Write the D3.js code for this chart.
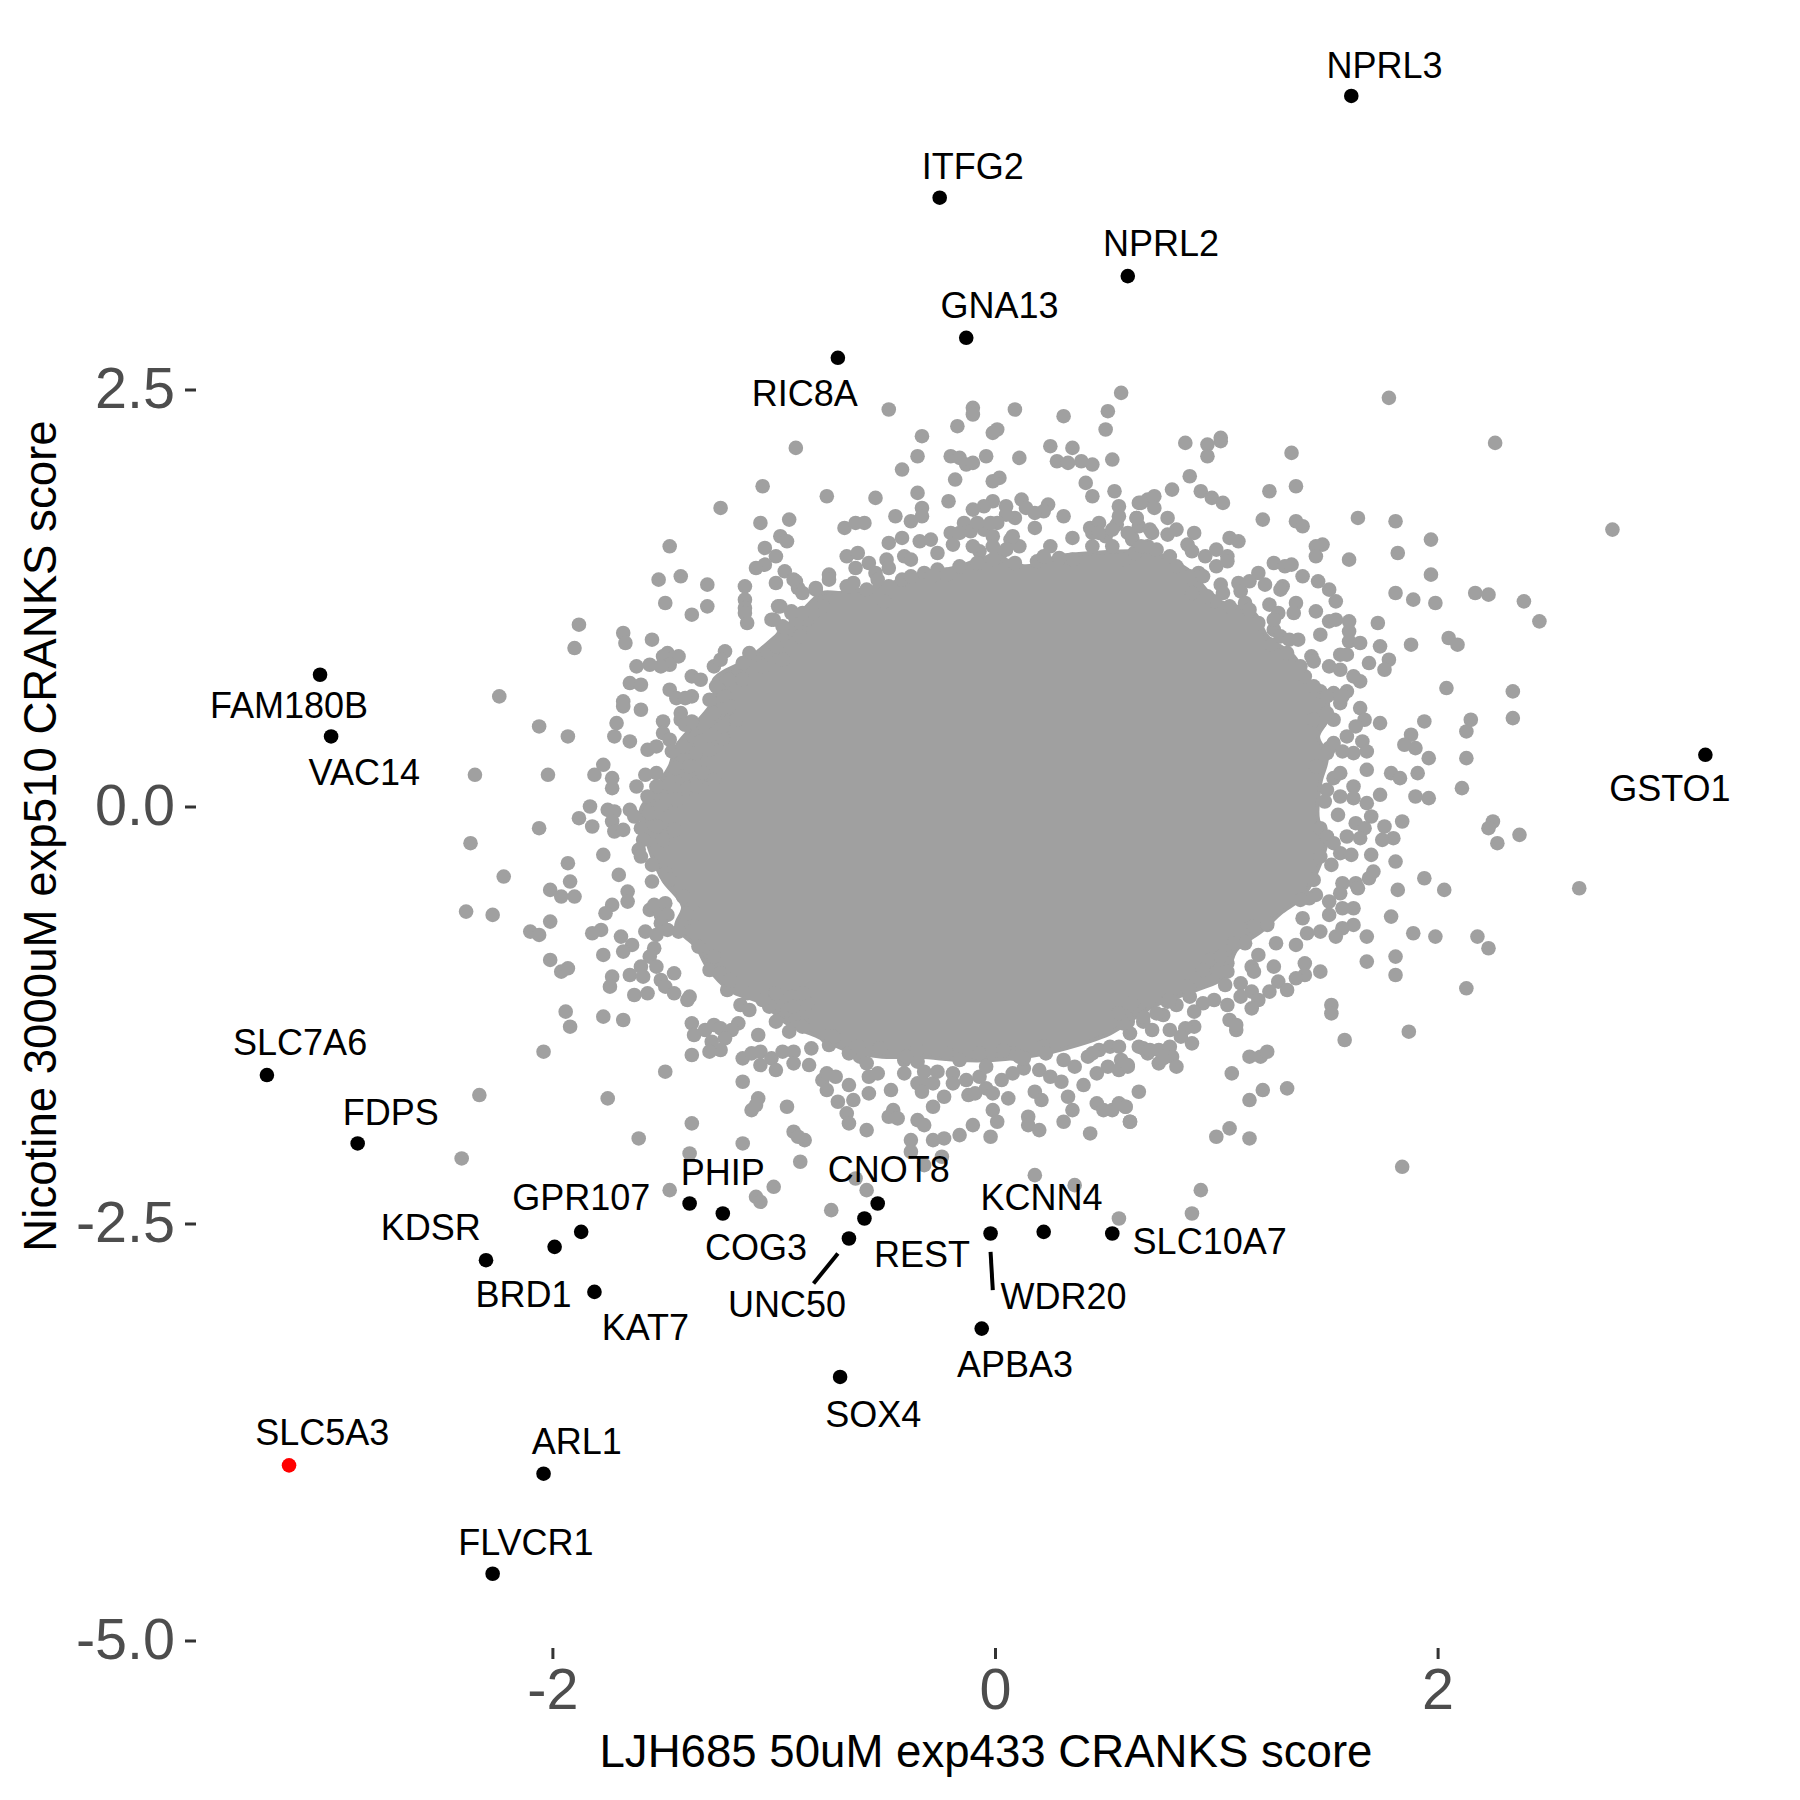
<!DOCTYPE html>
<html><head><meta charset="utf-8">
<script src="https://d3js.org/d3.v7.min.js"></script>
<style>html,body{margin:0;padding:0;background:#fff}svg{display:block}</style>
</head><body><svg id="chart" width="1800" height="1800"></svg>
<script>
// Values, in score units [x, y].
const fringeUpperLeft = [[-1.05,1.92],[-1.24,1.79],[-1.06,1.70],[-0.93,1.72],[-0.97,1.62],[-0.94,1.59],[-1.04,1.55],[-0.99,1.50],[-1.04,1.45],[-1.08,1.43],[-0.95,1.41],[-0.99,1.34],[-0.90,1.35],[-0.89,1.31],[-1.47,1.56],[-1.52,1.36],[-1.42,1.38],[-1.30,1.33],[-1.49,1.22],[-1.30,1.20],[-1.37,1.15],[-1.13,1.32],[-1.13,1.24],[-1.13,1.19],[-1.13,1.16],[-1.12,1.10],[-0.98,1.20],[-1.01,1.12],[-0.92,1.16],[-1.88,1.09],[-1.90,0.95],[-1.68,1.04],[-1.67,0.98],[-1.55,1.00],[-1.48,0.92],[-1.43,0.90],[-1.50,0.90],[-1.47,0.85],[-1.51,0.84],[-1.56,0.85],[-1.62,0.84],[-1.22,0.93],[-1.27,0.84],[-1.24,0.88],[-1.11,0.92],[-1.14,0.86],[-1.03,0.93],[-1.37,0.78],[-1.33,0.76],[-1.65,0.74],[-1.60,0.73],[-1.47,0.70],[-1.37,0.66],[-1.44,0.65],[-1.40,0.65],[-1.68,0.63],[-1.68,0.60],[-1.60,0.58],[-1.29,0.64],[-1.22,0.66],[-1.42,0.56],[-1.42,0.52],[-1.40,0.49],[-1.37,0.51],[-1.30,0.51],[-1.50,0.51],[-1.71,0.50],[-1.72,0.42],[-1.65,0.39],[-1.50,0.44],[-1.47,0.40],[-1.57,0.34],[-1.53,0.36],[-1.46,0.33],[-1.41,0.36],[-1.35,0.42],[-1.33,0.39],[-1.23,0.41],[-2.24,0.66],[-2.06,0.48],[-1.93,0.42],[-2.35,0.19],[-2.02,0.19],[-1.77,0.25],[-1.81,0.19],[-1.73,0.17],[-1.73,0.11],[-1.58,0.19],[-1.53,0.20],[-1.62,0.12],[-1.53,0.12],[-1.45,0.10],[-1.44,0.23],[-1.39,0.20],[-1.39,0.11],[-1.83,0.00],[-1.88,-0.07],[-1.75,-0.02],[-1.72,-0.03],[-1.73,-0.09],[-1.82,-0.12],[-2.06,-0.13],[-1.72,-0.15],[-1.68,-0.14],[-1.65,-0.02],[-1.63,-0.06],[-1.57,0.06],[-1.56,-0.04],[-1.60,-0.13],[-2.37,-0.22],[-1.77,-0.29],[-1.93,-0.34],[-1.59,-0.20],[-1.61,-0.26],[-1.60,-0.30],[-1.55,-0.35],[-2.22,-0.42],[-1.70,-0.41],[-1.50,-0.20],[-1.45,-0.14],[-1.49,-0.40],[-0.96,1.02],[-0.99,0.96],[-0.91,1.06],[-0.85,1.12],[-0.96,0.88],[-1.05,0.84],[-1.20,0.76],[-1.14,0.76],[-1.26,0.72],[-1.24,0.58],[-1.20,0.60],[-1.17,0.52],[-1.27,0.56],[-1.23,0.48],[-1.35,0.32],[-1.29,0.34],[-1.38,0.24],[-1.32,0.20],[-1.27,0.16],[-1.35,0.12],[-1.51,0.00],[-1.47,-0.06],[-1.53,-0.12],[-1.44,0.04],[-0.87,1.28],[-0.81,1.30],[-0.78,1.20],[-0.82,1.16],[-0.90,1.12],[-0.96,1.08],[-0.88,1.02]];
const fringeLowerLeft = [[-2.39,-0.63],[-2.27,-0.65],[-2.01,-0.50],[-1.96,-0.54],[-1.92,-0.45],[-1.90,-0.54],[-2.01,-0.69],[-2.10,-0.75],[-2.06,-0.77],[-2.01,-0.92],[-1.96,-0.99],[-1.93,-0.97],[-1.94,-1.23],[-1.92,-1.32],[-1.77,-1.26],[-1.68,-1.28],[-2.04,-1.47],[-2.33,-1.73],[-2.41,-2.11],[-1.75,-1.75],[-1.61,-1.99],[-1.47,-2.30],[-1.38,-2.08],[-1.37,-1.90],[-1.49,-1.59],[-1.66,-0.51],[-1.66,-0.57],[-1.73,-0.59],[-1.76,-0.64],[-1.78,-0.74],[-1.82,-0.76],[-1.69,-0.78],[-1.64,-0.83],[-1.68,-0.87],[-1.77,-0.89],[-1.55,-0.45],[-1.56,-0.62],[-1.54,-0.59],[-1.49,-0.58],[-1.51,-0.65],[-1.48,-0.65],[-1.51,-0.70],[-1.48,-0.74],[-1.58,-0.75],[-1.53,-0.77],[-1.43,-0.75],[-1.37,-0.75],[-1.54,-0.85],[-1.56,-0.90],[-1.53,-0.96],[-1.60,-0.96],[-1.65,-1.01],[-1.59,-1.02],[-1.73,-1.02],[-1.74,-1.08],[-1.51,-1.04],[-1.49,-1.08],[-1.45,-1.00],[-1.45,-1.12],[-1.63,-1.13],[-1.57,-1.12],[-1.38,-1.14],[-1.39,-1.16],[-1.34,-0.84],[-1.29,-0.98],[-1.21,-1.10],[-1.15,-1.19],[-1.11,-1.22],[-1.02,-1.20],[-0.99,-1.29],[-0.93,-1.35],[-1.07,-1.37],[-1.16,-1.30],[-1.19,-1.34],[-1.37,-1.30],[-1.36,-1.37],[-1.31,-1.34],[-1.27,-1.31],[-1.24,-1.33],[-1.22,-1.39],[-1.28,-1.41],[-1.24,-1.46],[-1.29,-1.47],[-1.37,-1.49],[-1.14,-1.51],[-1.10,-1.48],[-1.06,-1.47],[-1.06,-1.55],[-1.01,-1.51],[-0.99,-1.58],[-0.96,-1.47],[-0.91,-1.47],[-0.91,-1.54],[-0.83,-1.45],[-0.84,-1.55],[-1.14,-1.65],[-1.07,-1.75],[-1.08,-1.79],[-1.10,-1.82],[-0.94,-1.80],[-0.91,-1.95],[-0.86,-2.00],[-0.89,-1.98],[-0.88,-2.13],[-1.14,-2.02],[-1.00,-2.28],[-1.08,-2.34],[-1.06,-2.37],[-0.78,-1.64],[-0.94,-1.22],[-0.85,-1.18],[-0.87,-1.30],[-0.92,-1.14],[-1.27,-0.90],[-1.24,-1.00],[-1.20,-1.04],[-1.12,-1.12],[-1.05,-1.16],[-0.99,-1.12],[-0.91,-1.20],[-0.87,-1.12],[-1.35,-0.64],[-1.41,-0.54],[-1.47,-0.44],[-1.39,-0.64]];
const fringeTop = [[-0.48,2.38],[-0.90,2.15],[-0.10,2.39],[-0.10,2.35],[-0.17,2.28],[-0.33,2.22],[0.09,2.38],[0.31,2.34],[0.57,2.48],[0.51,2.37],[0.50,2.26],[0.01,2.26],[-0.01,2.24],[-0.35,2.10],[-0.42,2.02],[-0.20,2.10],[-0.16,2.09],[-0.13,2.05],[-0.10,2.06],[-0.04,2.10],[0.11,2.09],[0.25,2.16],[0.35,2.15],[0.28,2.07],[0.33,2.06],[0.39,2.07],[0.44,2.05],[0.53,2.08],[-0.18,1.96],[0.02,1.97],[-0.01,1.95],[0.41,1.94],[0.44,1.86],[0.54,1.89],[-0.76,1.86],[-0.54,1.85],[-0.35,1.88],[-0.21,1.83],[0.12,1.84],[0.31,1.74],[0.18,1.67],[0.35,1.61],[0.24,1.81],[0.22,1.77],[0.18,1.76],[0.14,1.79],[-0.01,1.83],[-0.05,1.80],[0.05,1.80],[-0.10,1.78],[0.09,1.73],[0.05,1.75],[-0.33,1.79],[-0.33,1.74],[-0.45,1.74],[-0.38,1.71],[-0.68,1.67],[-0.63,1.70],[-0.59,1.70],[-0.42,1.61],[-0.48,1.58],[-0.14,1.70],[-0.20,1.64],[-0.19,1.57],[-0.11,1.65],[-0.05,1.66],[0.01,1.70],[-0.34,1.59],[-0.29,1.60],[-0.67,1.50],[-0.62,1.52],[-0.41,1.50],[-0.38,1.48],[-0.26,1.52],[-0.49,1.48],[-0.48,1.43],[-0.57,1.46],[-0.63,1.43],[-0.54,1.40],[-0.75,1.39],[-0.91,1.36],[-0.48,1.32],[-0.07,1.53],[-0.01,1.62],[0.07,1.60],[0.11,1.56],[0.02,1.50],[0.09,1.46],[0.19,1.47],[0.25,1.56],[0.35,1.48],[0.29,1.49],[0.43,1.67],[0.47,1.70],[0.55,1.69],[0.56,1.80],[0.56,1.74],[0.44,1.56],[0.53,1.56],[0.50,1.62],[0.62,1.60],[0.65,1.82],[0.64,1.73],[0.69,1.84],[0.63,1.52],[-0.32,1.40],[-0.26,1.42],[-0.97,1.20],[-0.92,1.17],[-0.87,1.16],[-1.00,1.12],[-0.50,1.23],[-0.81,1.31],[-0.75,1.36],[-0.67,1.32],[-0.64,1.34],[-0.58,1.30],[-0.53,1.36],[-0.42,1.36],[-0.38,1.38],[-0.29,1.38],[-0.22,1.39],[-0.16,1.44],[-0.08,1.46],[-0.01,1.48],[-0.10,1.56],[-0.01,1.56],[0.05,1.54],[0.08,1.62],[-0.02,1.70],[-0.08,1.70],[-0.16,1.64],[0.22,1.50],[0.44,1.64],[0.47,1.64],[0.53,1.66],[0.65,1.68],[0.70,1.66],[0.58,1.48],[0.69,1.56]];
const fringeUpperRight = [[0.86,2.18],[0.96,2.17],[0.96,2.10],[1.02,2.21],[1.02,2.19],[1.34,2.12],[2.26,2.18],[0.88,1.98],[0.80,1.90],[0.93,1.89],[0.98,1.85],[1.03,1.82],[1.24,1.89],[1.36,1.92],[1.21,1.72],[1.36,1.71],[1.39,1.68],[1.64,1.73],[1.81,1.71],[1.97,1.60],[1.82,1.52],[1.97,1.39],[1.81,1.28],[1.89,1.24],[1.99,1.22],[2.17,1.28],[2.23,1.27],[1.60,1.48],[1.48,1.57],[1.45,1.56],[1.45,1.50],[0.72,1.86],[0.66,1.82],[0.72,1.79],[0.64,1.73],[0.78,1.73],[0.82,1.66],[0.78,1.63],[0.90,1.64],[0.71,1.64],[0.62,1.61],[1.06,1.61],[1.10,1.59],[0.87,1.57],[0.89,1.53],[0.95,1.50],[1.00,1.54],[1.05,1.50],[1.00,1.44],[1.05,1.47],[1.26,1.46],[1.31,1.44],[1.34,1.45],[1.39,1.38],[1.46,1.35],[1.51,1.30],[1.54,1.23],[1.19,1.40],[1.22,1.33],[1.15,1.35],[1.10,1.34],[1.11,1.29],[1.30,1.32],[1.29,1.30],[1.02,1.33],[1.03,1.28],[0.99,1.23],[0.92,1.40],[0.89,1.28],[1.36,1.22],[1.35,1.16],[1.45,1.17],[1.24,1.21],[1.28,1.16],[1.13,1.22],[1.19,1.10],[1.51,1.11],[1.54,1.12],[1.60,1.11],[1.73,1.10],[1.47,1.03],[1.60,1.05],[1.60,0.99],[1.65,0.98],[1.74,0.96],[1.88,0.97],[2.05,1.01],[2.09,0.97],[1.37,1.00],[1.26,1.06],[1.25,0.97],[1.56,0.91],[1.59,0.91],[1.43,0.90],[1.44,0.87],[1.69,0.86],[1.78,0.88],[1.76,0.82],[1.51,0.84],[1.56,0.82],[1.62,0.78],[1.65,0.75],[2.04,0.71],[2.34,0.69],[2.34,0.53],[1.40,0.78],[1.47,0.69],[1.53,0.68],[1.59,0.69],[1.65,0.59],[1.56,0.62],[1.67,0.52],[1.74,0.50],[1.94,0.51],[2.15,0.52],[2.13,0.45],[1.53,0.52],[1.47,0.51],[1.63,0.48],[1.59,0.42],[1.66,0.39],[1.68,0.33],[1.62,0.32],[1.57,0.33],[1.88,0.43],[1.85,0.37],[1.90,0.35],[1.96,0.29],[2.13,0.29],[1.51,0.35],[1.68,0.22],[1.53,0.17],[1.79,0.20],[1.83,0.17],[1.91,0.20],[2.11,0.11],[1.62,0.12],[1.74,0.07],[1.90,0.06],[1.96,0.05],[1.62,0.05],[1.68,0.02],[1.56,0.06],[1.49,0.03],[1.45,0.24],[2.79,1.66],[1.78,2.45],[2.46,1.11],[2.39,1.23],[0.60,1.64],[0.66,1.56],[0.73,1.54],[0.79,1.50],[0.82,1.44],[0.88,1.38],[0.94,1.38],[0.96,1.26],[1.06,1.20],[1.15,1.18],[1.26,1.12],[1.29,1.02],[1.33,1.00],[1.32,0.92],[1.38,0.84],[1.44,0.72],[1.50,0.66],[1.57,0.66],[1.50,0.56],[1.44,0.52],[1.53,0.38],[1.50,0.32],[1.56,0.20],[1.50,0.10]];
const fringeLowerRight = [[1.84,-0.09],[2.25,-0.09],[2.23,-0.13],[2.27,-0.22],[1.70,-0.06],[1.63,-0.10],[1.67,-0.13],[1.59,-0.18],[1.65,-0.19],[1.76,-0.12],[1.80,-0.19],[1.75,-0.20],[1.55,-0.05],[1.47,-0.13],[1.50,-0.18],[1.56,-0.28],[1.61,-0.29],[1.70,-0.29],[1.81,-0.33],[1.52,-0.35],[1.71,-0.39],[1.69,-0.43],[1.94,-0.43],[2.03,-0.50],[1.82,-0.50],[1.57,-0.46],[1.63,-0.46],[1.64,-0.49],[1.44,-0.44],[1.79,-0.66],[1.56,-0.52],[1.45,-0.53],[1.42,-0.55],[1.51,-0.57],[1.51,-0.65],[1.62,-0.61],[1.57,-0.61],[1.39,-0.67],[1.62,-0.71],[1.57,-0.73],[1.89,-0.76],[1.99,-0.78],[2.18,-0.78],[2.23,-0.85],[1.68,-0.78],[1.54,-0.78],[1.47,-0.75],[1.41,-0.76],[1.36,-0.83],[1.27,-0.82],[1.23,-0.71],[1.15,-0.73],[1.13,-0.82],[1.81,-0.90],[1.68,-0.93],[1.81,-1.01],[1.40,-0.94],[1.47,-0.99],[1.19,-0.89],[1.16,-0.96],[1.17,-0.99],[1.26,-0.96],[1.40,-1.01],[1.36,-1.03],[1.28,-1.05],[1.32,-1.10],[1.24,-1.11],[2.13,-1.09],[1.52,-1.19],[1.52,-1.24],[1.58,-1.40],[1.87,-1.35],[1.84,-2.16],[1.11,-1.06],[1.16,-1.11],[1.11,-1.14],[1.19,-1.16],[1.16,-1.21],[1.05,-1.19],[0.95,-1.03],[0.97,-0.92],[1.05,-0.94],[1.05,-0.99],[1.04,-1.07],[0.99,-1.16],[0.94,-1.18],[0.90,-1.23],[0.88,-1.14],[0.78,-1.17],[0.82,-1.19],[0.76,-1.25],[1.06,-1.28],[1.09,-1.34],[1.09,-1.31],[0.90,-1.32],[0.86,-1.33],[0.79,-1.34],[0.89,-1.42],[0.84,-1.38],[0.71,-1.34],[0.67,-1.29],[0.60,-1.29],[0.61,-1.36],[0.65,-1.44],[0.69,-1.48],[0.74,-1.46],[0.79,-1.44],[0.80,-1.50],[0.74,-1.54],[0.82,-1.56],[0.76,-1.51],[0.60,-1.56],[0.57,-1.52],[1.15,-1.50],[1.20,-1.50],[1.23,-1.47],[1.07,-1.60],[1.21,-1.70],[1.32,-1.69],[1.15,-1.76],[0.65,-1.71],[0.59,-1.80],[0.61,-1.89],[1.06,-1.93],[1.00,-1.98],[1.15,-1.99],[0.93,-2.30],[0.89,-2.44],[2.64,-0.49],[2.37,-0.17],[1.23,-0.70],[1.17,-0.72],[1.08,-0.82],[1.02,-0.90],[0.94,-0.98],[0.87,-1.08],[0.79,-1.16],[0.73,-1.24],[0.67,-1.26],[0.63,-1.20],[1.38,-0.56],[1.47,-0.30],[1.53,-0.22]];
const fringeBottom = [[-0.87,-1.32],[-0.76,-1.38],[-0.75,-1.43],[-0.76,-1.60],[-0.72,-1.62],[-0.76,-1.70],[-0.66,-1.67],[-0.64,-1.76],[-0.71,-1.77],[-0.67,-1.84],[-0.66,-1.90],[-0.58,-1.94],[-0.74,-2.42],[-0.63,-2.23],[-0.58,-2.30],[-0.61,-1.50],[-0.66,-1.48],[-0.57,-1.62],[-0.57,-1.72],[-0.53,-1.60],[-0.47,-1.70],[-0.52,-1.45],[-0.41,-1.52],[-0.41,-1.60],[-0.35,-1.53],[-0.35,-1.66],[-0.32,-1.59],[-0.32,-1.66],[-0.33,-1.71],[-0.28,-1.66],[-0.26,-1.59],[-0.23,-1.74],[-0.28,-1.80],[-0.46,-1.82],[-0.48,-1.86],[-0.44,-1.87],[-0.35,-1.88],[-0.32,-1.91],[-0.38,-2.00],[-0.38,-2.07],[-0.32,-2.15],[-0.24,-2.10],[-0.28,-2.00],[-0.23,-1.99],[-0.16,-1.97],[-0.10,-1.91],[-0.12,-1.73],[-0.09,-1.72],[-0.04,-1.69],[-0.01,-1.72],[0.06,-1.75],[-0.01,-1.82],[0.01,-1.89],[-0.02,-1.98],[-0.19,-1.60],[-0.19,-1.66],[-0.13,-1.64],[-0.07,-1.62],[-0.04,-1.56],[0.03,-1.64],[0.08,-1.60],[0.13,-1.57],[0.13,-1.51],[0.08,-1.48],[0.20,-1.58],[0.25,-1.62],[0.30,-1.65],[0.18,-1.71],[0.21,-1.76],[0.15,-1.86],[0.15,-1.91],[0.20,-1.94],[0.33,-1.74],[0.35,-1.82],[0.31,-1.89],[0.43,-1.96],[0.40,-1.67],[0.46,-1.60],[0.36,-1.56],[0.31,-1.52],[0.42,-1.50],[0.47,-1.46],[0.52,-1.44],[0.56,-1.44],[0.51,-1.56],[0.56,-1.58],[0.60,-1.55],[0.46,-1.78],[0.49,-1.82],[0.53,-1.82],[0.56,-1.78],[0.59,-1.80],[0.61,-1.89],[0.18,-2.21],[0.36,-2.27],[0.56,-2.47],[0.22,-1.44],[0.62,-1.18],[0.58,-1.30],[0.67,-1.45],[-0.73,-1.38],[-0.62,-1.44],[-0.58,-1.54],[-0.40,-1.50],[-0.35,-1.46],[-0.22,-1.48],[-0.16,-1.52],[-0.07,-1.48],[0.04,-1.46],[0.11,-1.50],[0.23,-1.48],[0.44,-1.48],[0.56,-1.24],[0.70,-1.46]];
// Outline of the fully overplotted centre, where single points can no longer be told apart.
const coreOutline = [[-1.56,-0.26],[-1.60,-0.02],[-1.56,0.06],[-1.47,0.24],[-1.44,0.36],[-1.27,0.64],[-1.27,0.76],[-1.12,0.88],[-0.99,1.02],[-0.88,1.16],[-0.78,1.28],[-0.70,1.28],[-0.53,1.32],[-0.35,1.38],[-0.16,1.44],[-0.01,1.50],[0.14,1.44],[0.29,1.50],[0.44,1.52],[0.71,1.52],[0.87,1.42],[1.00,1.24],[1.17,1.16],[1.23,1.02],[1.35,0.90],[1.42,0.74],[1.50,0.64],[1.50,0.52],[1.46,0.42],[1.50,0.30],[1.47,0.14],[1.46,-0.08],[1.50,-0.18],[1.47,-0.34],[1.39,-0.54],[1.29,-0.64],[1.21,-0.74],[1.09,-0.86],[1.04,-1.02],[0.91,-1.10],[0.71,-1.20],[0.52,-1.36],[0.29,-1.46],[0.14,-1.50],[-0.01,-1.52],[-0.16,-1.52],[-0.34,-1.50],[-0.51,-1.50],[-0.67,-1.46],[-0.80,-1.38],[-0.94,-1.30],[-1.05,-1.18],[-1.20,-1.10],[-1.30,-0.96],[-1.35,-0.84],[-1.44,-0.72],[-1.41,-0.60],[-1.50,-0.44]];

const geneNames  = ["NPRL3","ITFG2","NPRL2","GNA13","RIC8A","FAM180B","VAC14","GSTO1","SLC7A6","FDPS","PHIP","COG3","GPR107","BRD1","KDSR","KAT7","CNOT8","REST","UNC50","WDR20","KCNN4","SLC10A7","APBA3","SOX4","SLC5A3","ARL1","FLVCR1"];
const geneX      = [1.61,-0.25,0.60,-0.13,-0.71,-3.05,-3.00,3.21,-3.29,-2.88,-1.38,-1.23,-1.87,-1.99,-2.30,-1.81,-0.53,-0.59,-0.66,-0.02,0.22,0.53,-0.06,-0.70,-3.19,-2.04,-2.27];
const geneY      = [4.26,3.65,3.18,2.81,2.69,0.79,0.42,0.31,-1.61,-2.02,-2.38,-2.44,-2.55,-2.64,-2.72,-2.91,-2.38,-2.47,-2.59,-2.56,-2.55,-2.56,-3.13,-3.42,-3.95,-4.00,-4.60];
const labelX     = [1.76,-0.10,0.75,0.02,-0.86,-3.19,-2.85,3.05,-3.14,-2.73,-1.23,-1.08,-1.87,-2.13,-2.55,-1.58,-0.48,-0.33,-0.94,0.31,0.21,0.97,0.09,-0.55,-3.04,-1.89,-2.12];
const labelY     = [4.45,3.84,3.38,3.01,2.48,0.61,0.21,0.11,-1.41,-1.83,-2.19,-2.64,-2.34,-2.92,-2.52,-3.12,-2.17,-2.68,-2.98,-2.93,-2.34,-2.60,-3.34,-3.64,-3.75,-3.80,-4.41];
const highlightGene = "SLC5A3";
const leaderLines = [[[-0.71,-2.68],[-0.82,-2.86]],[[-0.02,-2.67],[-0.01,-2.90]]];

const xTicks = [-2,0,2];
const yTicks = [2.5,0,-2.5,-5];
const xTitle = "LJH685 50uM exp433 CRANKS score";
const yTitle = "Nicotine 3000uM exp510 CRANKS score";

const svg = d3.select("#chart");
const FONT = "'Liberation Sans', Arial, sans-serif";
// score -> pixel: 0 at 995 / 806.5, one score unit = 221.3 px across and 166.8 px down
const x = d3.scaleLinear().domain([-2,2]).range([552.4,1437.6]);
const y = d3.scaleLinear().domain([-5,2.5]).range([1640.5,389.5]);

const GREY = "#a0a0a0", R = 7.3;
const corePath = d3.line().x(d=>x(d[0])).y(d=>y(d[1])).curve(d3.curveCatmullRomClosed.alpha(0.5));
svg.append("path").attr("d",corePath(coreOutline)).attr("fill",GREY).attr("stroke",GREY).attr("stroke-width",4).attr("stroke-linejoin","round");

const fringe = [].concat(fringeUpperLeft,fringeLowerLeft,fringeTop,fringeUpperRight,fringeLowerRight,fringeBottom);
svg.append("g").selectAll("circle").data(fringe).join("circle")
  .attr("cx",d=>x(d[0])).attr("cy",d=>y(d[1])).attr("r",R).attr("fill",GREY);

const genes = geneNames.map((n,i)=>({n,x:geneX[i],y:geneY[i],lx:labelX[i],ly:labelY[i]}));
svg.append("g").selectAll("circle").data(genes).join("circle")
  .attr("cx",d=>x(d.x)).attr("cy",d=>y(d.y)).attr("r",R)
  .attr("fill",d=>d.n===highlightGene?"#ff0000":"#000");

svg.append("g").selectAll("line").data(leaderLines).join("line")
  .attr("x1",d=>x(d[0][0])).attr("y1",d=>y(d[0][1])).attr("x2",d=>x(d[1][0])).attr("y2",d=>y(d[1][1]))
  .attr("stroke","#000").attr("stroke-width",4);

svg.append("g").selectAll("text").data(genes).join("text")
  .attr("x",d=>x(d.lx)).attr("y",d=>y(d.ly)).attr("dy","0.37em").attr("text-anchor","middle")
  .attr("font-family",FONT).attr("font-size",36).attr("fill","#000").text(d=>d.n);

// Axes: ticks only, no domain line
const xAxis = d3.axisBottom(x).tickValues(xTicks).tickSize(11).tickPadding(9).tickFormat(d3.format("d"));
const yAxis = d3.axisLeft(y).tickValues(yTicks).tickSize(11).tickPadding(10).tickFormat(d3.format(".1f"));
const gx = svg.append("g").attr("transform","translate(0,1648)").call(xAxis);
const gy = svg.append("g").attr("transform","translate(196,0)").call(yAxis);
[gx,gy].forEach(g=>{
  g.select(".domain").remove();
  g.selectAll(".tick line").attr("stroke","#333").attr("stroke-width",3);
  g.selectAll(".tick text").attr("font-family",FONT).attr("font-size",57.5).attr("fill","#4d4d4d").text(function(){return d3.select(this).text().replace("\u2212","-");});
});

svg.append("text").attr("x",986).attr("y",1767).attr("text-anchor","middle")
  .attr("font-family",FONT).attr("font-size",45.6).attr("fill","#000").text(xTitle);
svg.append("text").attr("transform","translate(56,836) rotate(-90)").attr("text-anchor","middle")
  .attr("font-family",FONT).attr("font-size",45.6).attr("fill","#000").text(yTitle);
</script></body></html>
